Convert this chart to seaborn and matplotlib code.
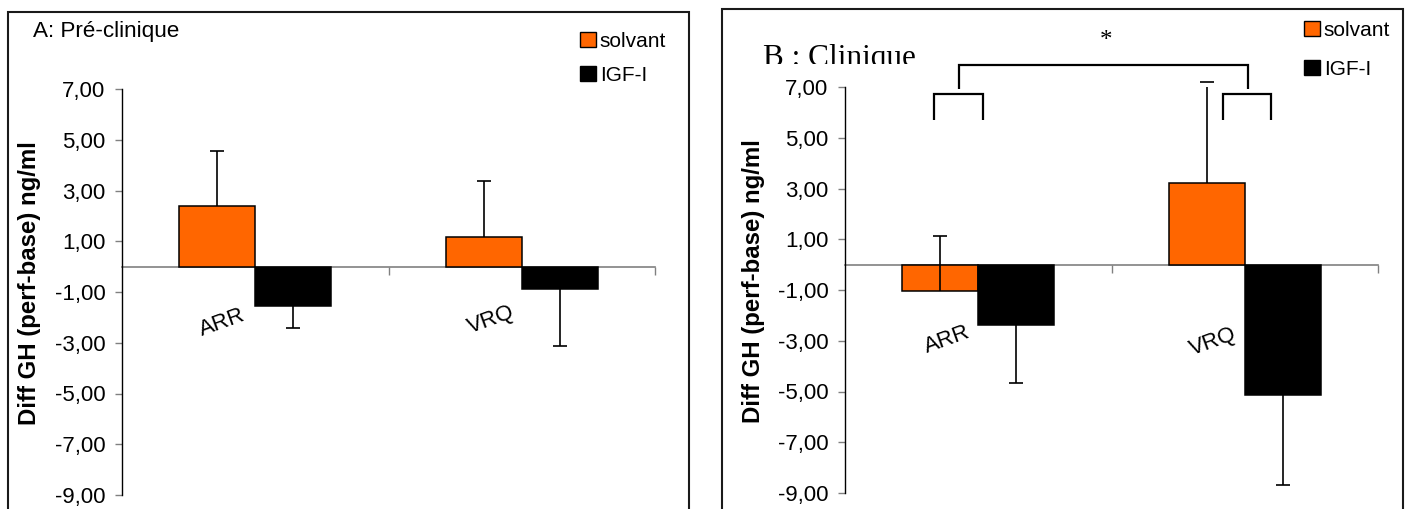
import matplotlib
matplotlib.use("Agg")
import matplotlib.pyplot as plt
from matplotlib.patches import Rectangle, Patch
from matplotlib.transforms import Bbox, TransformedBbox
import numpy as np
import pandas as pd
import seaborn as sns

# ---- data -------------------------------------------------------------
genotypes = ["ARR", "VRQ"]
treatments = ["solvant", "IGF-I"]

pre_solvant = [2.40, 1.15]
pre_solvant_err = [2.16, 2.23]
pre_igf = [-1.54, -0.89]
pre_igf_err = [0.88, 2.24]

cli_solvant = [-1.05, 3.22]
cli_solvant_err = [2.17, 3.99]
cli_igf = [-2.38, -5.12]
cli_igf_err = [2.28, 3.56]

yticks = [-9, -7, -5, -3, -1, 1, 3, 5, 7]
panel_titles = ["A: Pré-clinique", "B : Clinique"]
ylabel = "Diff GH (perf-base) ng/ml"
star = "*"

# ---- style ------------------------------------------------------------
sns.set_theme(style="white")
plt.rcParams["font.family"] = ["Liberation Sans", "DejaVu Sans"]
plt.rcParams.update({"text.color": "black", "axes.labelcolor": "black",
                     "xtick.color": "black", "ytick.color": "black"})

W, H = 1410, 509
fig = plt.figure(figsize=(W / 100, H / 100), dpi=100)
palette = {"solvant": "#FF6600", "IGF-I": "#000000"}
AXIS_GREY = "#808080"


def fx(px):
    return px / W


def fy(py):
    return 1 - py / H


def build_frame(solv, solv_err, igf, igf_err):
    return pd.DataFrame({
        "genotype": genotypes * 2,
        "treatment": [treatments[0]] * 2 + [treatments[1]] * 2,
        "value": list(solv) + list(igf),
        "err": list(solv_err) + list(igf_err),
    })


def draw_panel(ax, df, label_pos, ylabel_x):
    sns.barplot(data=df, x="genotype", y="value", hue="treatment",
                hue_order=treatments, order=genotypes, palette=palette,
                width=0.57, errorbar=None, edgecolor="black", linewidth=1.1,
                saturation=1, legend=False, ax=ax, zorder=2)

    # one-sided error bars: solvant upward, IGF-I downward
    for container, t, sign in zip(ax.containers, treatments, (1, -1)):
        sub = df[df["treatment"] == t].set_index("genotype").loc[genotypes]
        for patch, val, err in zip(container.patches, sub["value"], sub["err"]):
            xc = patch.get_x() + patch.get_width() / 2
            end = val + sign * err
            ax.vlines(xc, val, end, color="black", lw=1.2, zorder=3)
            ax.plot([xc], [end], marker="_", markersize=10, mew=1.2,
                    color="black", ls="none", zorder=3, clip_on=False)

    ax.set_xlim(-0.5, 1.5)
    ax.set_ylim(-9, 7)
    ax.set_yticks(yticks)
    ax.set_yticklabels([f"{v:.2f}".replace(".", ",") for v in yticks],
                       fontsize=16)
    ax.set_xticks([0.5, 1.5])
    ax.set_xticklabels([])
    ax.set_xlabel("")
    ax.set_ylabel(ylabel, fontsize=17.3, fontweight="bold")
    ax.yaxis.set_label_coords(ylabel_x, 0.523)

    for s in ("top", "right"):
        ax.spines[s].set_visible(False)
    ax.spines["left"].set_color("black")
    ax.spines["left"].set_linewidth(1.0)
    ax.spines["bottom"].set_position(("data", 0))
    ax.spines["bottom"].set_color(AXIS_GREY)
    ax.spines["bottom"].set_linewidth(1.2)
    ax.spines["bottom"].set_zorder(1)
    ax.tick_params(axis="y", direction="out", length=5, width=1,
                   color=AXIS_GREY, pad=7, left=True)
    ax.tick_params(axis="x", direction="out", length=6, width=1,
                   color=AXIS_GREY, bottom=True)
    ax.set_facecolor("none")
    ax.grid(False)

    for i, (g, (dx, y)) in enumerate(zip(genotypes, label_pos)):
        ax.text(i + dx, y, g, rotation=20, ha="center", va="center",
                fontsize=16, color="black")


# ---- panel frames -----------------------------------------------------
for x0, x1, y0 in ((8, 689, 12), (722, 1403, 9)):
    fig.patches.append(Rectangle((fx(x0), -0.05), fx(x1 - x0), fy(y0) + 0.05,
                                 transform=fig.transFigure, fill=False,
                                 edgecolor="#1a1a1a", linewidth=1.5))

# ---- panel A ----------------------------------------------------------
ax1 = fig.add_axes([fx(122), fy(495), fx(533), 406 / H])
draw_panel(ax1, build_frame(pre_solvant, pre_solvant_err, pre_igf, pre_igf_err),
           label_pos=[(-0.125, -2.2), (-0.115, -2.1)], ylabel_x=-0.152)
fig.text(fx(33), fy(31), panel_titles[0], fontsize=16.2, ha="left", va="center")

# ---- panel B ----------------------------------------------------------
ax2 = fig.add_axes([fx(845), fy(493), fx(533), 406 / H])
draw_panel(ax2, build_frame(cli_solvant, cli_solvant_err, cli_igf, cli_igf_err),
           label_pos=[(-0.115, -2.95), (-0.118, -3.05)], ylabel_x=-0.150)

title_b = fig.text(fx(763), fy(66), panel_titles[1], fontsize=22.5,
                   family="Liberation Serif", ha="left", va="baseline")
title_b.set_clip_box(TransformedBbox(Bbox([[fx(740), fy(64)], [fx(960), fy(20)]]),
                                     fig.transFigure))
title_b.set_clip_on(True)

# significance brackets
bk = dict(color="black", lw=1.6, clip_on=False, solid_capstyle="butt",
          solid_joinstyle="miter")
ax2.plot([-0.073, -0.073, 1.011, 1.011], [6.92, 7.87, 7.87, 6.92], **bk)
ax2.plot([-0.167, -0.167, 0.018, 0.018], [5.69, 6.72, 6.72, 5.69], **bk)
ax2.plot([0.918, 0.918, 1.098, 1.098], [5.69, 6.72, 6.72, 5.69], **bk)
ax2.text(0.479, 8.8, star, ha="center", va="center", fontsize=18,
         family="Liberation Serif", clip_on=False)

# ---- legends ----------------------------------------------------------
handles = [Patch(facecolor=palette[t], edgecolor="black", linewidth=1.0)
           for t in treatments]
for x, y, sp in ((580, 32, 0.7), (1304, 21, 0.95)):
    fig.legend(handles, treatments, loc="upper left",
               bbox_to_anchor=(fx(x), fy(y)), bbox_transform=fig.transFigure,
               frameon=False, fontsize=15, handlelength=0.75, handleheight=0.75,
               handletextpad=0.2, labelspacing=sp, borderpad=0, borderaxespad=0)

fig.savefig("out.png", dpi=100, facecolor="white")
